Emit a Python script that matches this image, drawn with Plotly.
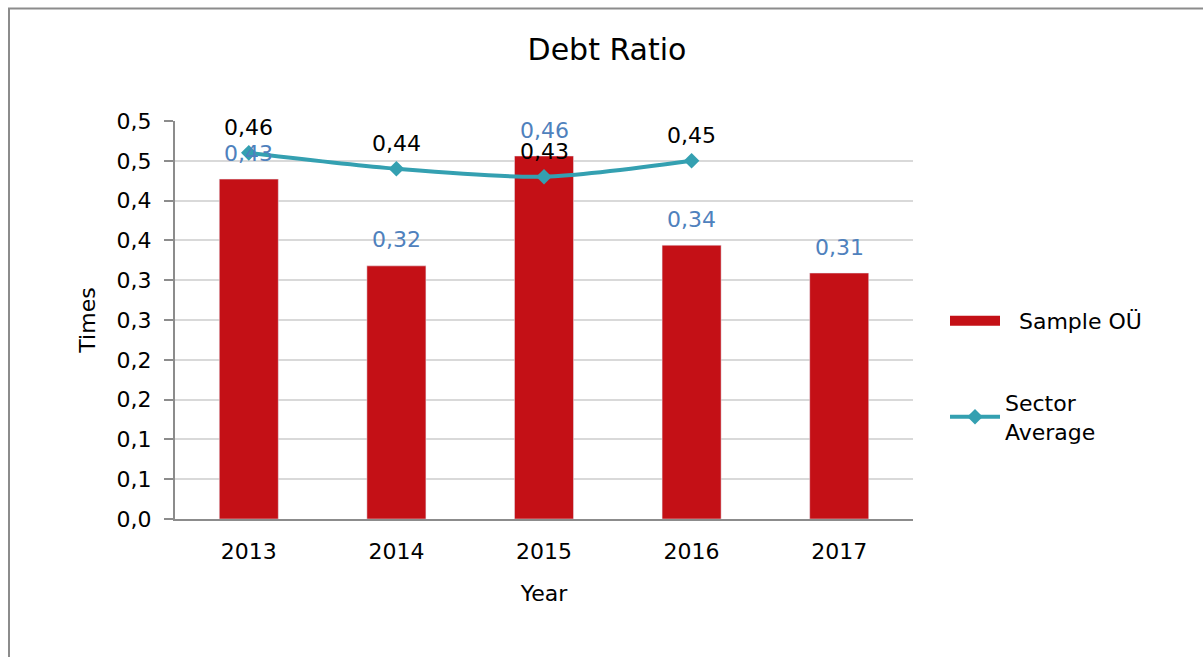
import plotly.graph_objects as go

years = ["2013", "2014", "2015", "2016", "2017"]
sample_ou = [0.427, 0.318, 0.456, 0.344, 0.309]
sector_years = ["2013", "2014", "2015", "2016"]
sector_avg = [0.46, 0.44, 0.43, 0.45]
y_tickvals = [0, 0.05, 0.1, 0.15, 0.2, 0.25, 0.3, 0.35, 0.4, 0.45, 0.5]
y_ticktext = ["0,0", "0,1", "0,1", "0,2", "0,2", "0,3", "0,3", "0,4", "0,4", "0,5", "0,5"]

FONT = "DejaVu Sans"
FS = 22
W, H = 1203, 657
L, R, T, B = 175, 290, 121, 138
pw, ph = W - L - R, H - T - B

def px_x(p):
    return (p - L) / pw

def px_y(p):
    return (H - B - p) / ph

def fmt(v):
    return f"{v:.2f}".replace(".", ",")

fig = go.Figure()
fig.add_trace(go.Bar(
    x=years, y=sample_ou, name="Sample OÜ", showlegend=False,
    marker=dict(color="#c41016"),
))
# legend-only entry for the bar series (wide rectangle swatch)
fig.add_trace(go.Scatter(
    x=[years[0]], y=[None], name="  Sample OÜ", legendgroup="a",
    mode="lines", line=dict(color="#c41016", width=15),
))
fig.add_trace(go.Scatter(
    x=sector_years, y=sector_avg, name="Sector<br>Average", legendgroup="b",
    mode="lines+markers",
    line=dict(color="#34a0b1", width=4, shape="spline", smoothing=0.8),
    marker=dict(symbol="diamond", size=12, color="#34a0b1"),
    cliponaxis=False,
))

# data labels (category index positions on the x axis)
annotations = []
for x, v in zip(years, sample_ou):
    annotations.append(dict(x=years.index(x), y=v, xref="x", yref="y", text=fmt(v),
                            showarrow=False, yanchor="middle", yshift=26,
                            font=dict(color="#4f81bd", size=FS, family=FONT)))
for x, v in zip(sector_years, sector_avg):
    annotations.append(dict(x=years.index(x), y=v, xref="x", yref="y", text=fmt(v),
                            showarrow=False, yanchor="middle", yshift=25,
                            font=dict(color="#000000", size=FS, family=FONT)))

fig.update_layout(
    width=W, height=H,
    margin=dict(l=L, r=R, t=T, b=B),
    paper_bgcolor="white", plot_bgcolor="white",
    font=dict(family=FONT, size=FS, color="#000000"),
    title=dict(text="Debt Ratio", x=607 / W, xanchor="center",
               y=1 - 49 / H, yanchor="middle",
               font=dict(size=30, family=FONT, color="#000000")),
    bargap=0.6,
    showlegend=True,
    legend=dict(x=px_x(945), xanchor="left", y=px_y(300), yanchor="top",
                font=dict(size=FS, family=FONT), tracegroupgap=50,
                itemwidth=50, bgcolor="rgba(0,0,0,0)"),
    xaxis=dict(
        type="category", categoryorder="array", categoryarray=years,
        range=[-0.5, len(years) - 0.5],
        showline=True, linecolor="#8c8c8c", linewidth=2,
        ticks="", showgrid=False, ticklabelstandoff=12,
        title=dict(text="Year", font=dict(size=FS, family=FONT), standoff=22),
        tickfont=dict(size=FS, family=FONT),
    ),
    yaxis=dict(
        range=[0, 0.5], tickvals=y_tickvals, ticktext=y_ticktext,
        showline=True, linecolor="#8c8c8c", linewidth=2,
        ticks="outside", ticklen=9, tickcolor="#8c8c8c", tickwidth=2,
        showgrid=True, gridcolor="#d9d9d9", gridwidth=2,
        zeroline=False, ticklabelstandoff=8,
        title=dict(text="Times", font=dict(size=FS, family=FONT), standoff=15),
        tickfont=dict(size=FS, family=FONT),
    ),
    annotations=annotations,
    shapes=[dict(type="rect", xref="paper", yref="paper",
                 x0=px_x(9), x1=px_x(1220), y0=px_y(8.5), y1=px_y(680),
                 line=dict(color="#8c8c8c", width=2), layer="below")],
)

fig.write_html("out.html")
